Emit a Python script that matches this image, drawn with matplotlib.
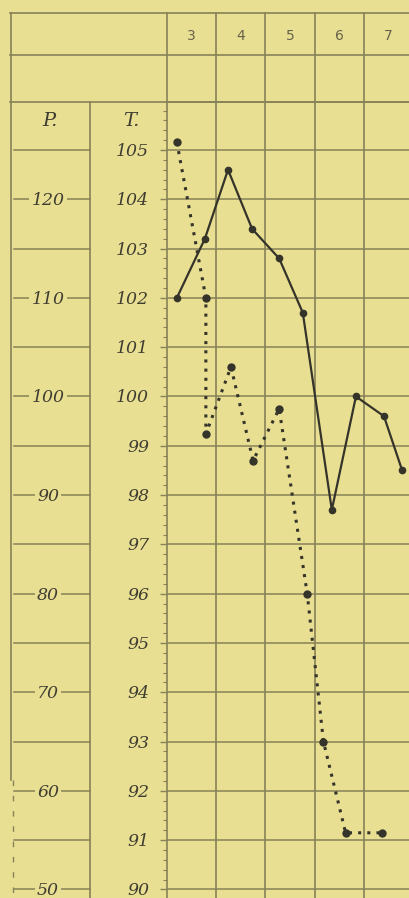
import numpy as np
import matplotlib.pyplot as plt
from matplotlib.lines import Line2D
from matplotlib.ticker import MultipleLocator
import matplotlib.transforms as mtrans

paper = '#e9df92'
ink = '#35342a'
rule = '#878259'
label_col = '#3f3d31'

days = [3, 4, 5, 6, 7]
temp_ticks = list(range(90, 106))
pulse_ticks = [120, 110, 100, 90, 80, 70, 60, 50]

# temperature (solid line), x in days
temp_x = [2.70, 3.27, 3.74, 4.23, 4.78, 5.26, 5.85, 6.34, 6.91, 7.28]
temp_y = [102.0, 103.2, 104.6, 103.4, 102.8, 101.7, 97.7, 100.0, 99.6, 98.5]

# pulse (dotted line), beats per minute
pulse_x = [2.70, 3.29, 3.29, 3.80, 4.25, 4.78, 5.35, 5.68, 6.13, 6.88]
pulse_y = [125.8, 110, 96.2, 103, 93.5, 98.75, 80, 65, 55.75, 55.75]


def pulse_to_temp(p):
    # 50 beats sits on 90 deg, 10 beats per 2 deg
    return 90 + (np.asarray(p, dtype=float) - 50) / 5.0


W, H = 410, 898
fig = plt.figure(figsize=(W / 100, H / 100), dpi=100, facecolor=paper)

def fx(px):
    return px / W

def fy(py):
    return 1 - py / H

ax = fig.add_axes([fx(167), 0, fx(410) - fx(167), fy(102)])
ax.set_facecolor(paper)
ax.set_xlim(2.5, 2.5 + 243 / 49.2)
ax.set_ylim(105 - 748 / 49.3, 105 + 48 / 49.3)

for s in ['right', 'bottom']:
    ax.spines[s].set_visible(False)
for s in ['left', 'top']:
    ax.spines[s].set_color(rule)
    ax.spines[s].set_linewidth(1.2)

ax.set_xticks([])
ax.set_yticks(temp_ticks)
ax.yaxis.set_minor_locator(MultipleLocator(0.2))
ax.tick_params(axis='y', which='major', length=5, width=1, color=rule, labelleft=False)
ax.tick_params(axis='y', which='minor', length=3, width=0.8, color=rule)

# grid of the chart
for t in temp_ticks:
    ax.axhline(t, color=rule, lw=1.1, zorder=1)

col_tr = mtrans.blended_transform_factory(ax.transData, fig.transFigure)
for d in days:
    ax.add_line(Line2D([d + 0.5, d + 0.5], [fy(13), 0], transform=col_tr,
                       color=rule, lw=1.2, clip_on=False, zorder=1))
ax.add_line(Line2D([2.5, 2.5], [fy(13), fy(102)], transform=col_tr,
                   color=rule, lw=1.2, clip_on=False, zorder=1))

# header rules and left columns
for py in [13, 55, 102]:
    fig.add_artist(Line2D([fx(10), 1], [fy(py), fy(py)], color=rule, lw=1.2))
fig.add_artist(Line2D([fx(11), fx(11)], [fy(13), fy(780)], color=rule, lw=1.2))
fig.add_artist(Line2D([fx(13), fx(13)], [fy(780), 0], color=rule, lw=1.0,
                      linestyle=(0, (4, 7))))
fig.add_artist(Line2D([fx(90), fx(90)], [fy(102), 0], color=rule, lw=1.2))

row_tr = mtrans.blended_transform_factory(fig.transFigure, ax.transData)
for t in temp_ticks:
    fig.add_artist(Line2D([fx(14), fx(90)], [t, t], transform=row_tr,
                          color=rule, lw=1.1))

for d in days:
    ax.text(d, fy(36), str(d), transform=col_tr, ha='center', va='center',
            fontsize=10, color='#67634b', family='DejaVu Sans')

font = dict(family='DejaVu Serif', style='italic', color=label_col)
fig.text(fx(50), fy(121), 'P.', ha='center', va='center', fontsize=14, **font)
fig.text(fx(131), fy(121), 'T.', ha='center', va='center', fontsize=14, **font)

down = mtrans.ScaledTranslation(0, -1.5 / 100, fig.dpi_scale_trans)
for t in temp_ticks:
    fig.text(fx(149), t, str(t), transform=row_tr + down, ha='right',
             va='center', fontsize=12.5, **font)

for p in pulse_ticks:
    fig.text(fx(48), pulse_to_temp(p), str(p), transform=row_tr + down,
             ha='center', va='center', fontsize=12.5,
             bbox=dict(facecolor=paper, edgecolor='none', pad=1.5), **font)

# curves
ax.plot(temp_x, temp_y, color=ink, lw=1.6, marker='o', markersize=4.5,
        zorder=4, clip_on=False)
ax.plot(pulse_x, pulse_to_temp(pulse_y), color=ink, lw=2.2,
        linestyle=(0, (1, 2)), marker='o', markersize=5, zorder=4)

fig.savefig('out.png', dpi=100, facecolor=paper)
